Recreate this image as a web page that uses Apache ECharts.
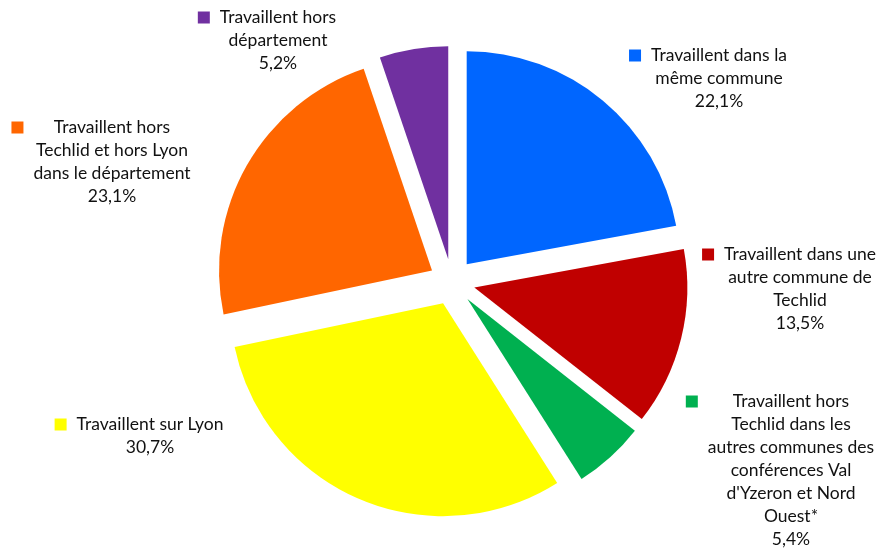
<!DOCTYPE html>
<html>
<head>
<meta charset="utf-8">
<script src="https://cdn.jsdelivr.net/npm/echarts@6/dist/echarts.min.js"></script>
<style>
  html, body { margin: 0; padding: 0; background: #fff; }
  #chart { width: 880px; height: 552px; }
</style>
</head>
<body>
<div id="chart"></div>
<script>
// Répartition des actifs selon le lieu de travail (%)
const categories = [
  'Travaillent dans la\nmême commune',
  'Travaillent dans une\nautre commune de\nTechlid',
  "Travaillent hors\nTechlid dans les\nautres communes des\nconférences Val\nd'Yzeron et Nord\nOuest*",
  'Travaillent sur Lyon',
  'Travaillent hors\nTechlid et hors Lyon\ndans le département',
  'Travaillent hors\ndépartement'
];
const values = [22.1, 13.5, 5.4, 30.7, 23.1, 5.2];
const colors = ['#0066FF', '#C00000', '#00B050', '#FFFF00', '#FF6600', '#7030A0'];

// Label anchors (text-block centre x, top y) for each slice
const labelAnchors = [
  [719, 44],
  [800, 243],
  [791, 390],
  [150, 413],
  [112, 116],
  [278, 6]
];

const rich = {
  t: { fontFamily: 'Lato', fontSize: 17.5, fill: '#111', lineHeight: 23, align: 'center' },
  g: { width: 10, height: 12, align: 'left' },
  l: { width: 22, height: 12, align: 'left' },
  r: { width: 22, height: 12, align: 'right' }
};
colors.forEach((c, i) => {
  rich['sq' + i] = { width: 12, height: 12, backgroundColor: c, align: 'left' };
});

function fmt(v) {
  return v.toFixed(1).replace('.', ',') + '%';
}

// Legend-key square + centred text block for one slice
function labelText(i) {
  const lines = categories[i].split('\n');
  lines.push(fmt(values[i]));
  return lines.map(function (ln, k) {
    if (k === 0) return '{sq' + i + '|}{g|}{t|' + ln + '}{r|}';
    return '{l|}{t|' + ln + '}{r|}';
  }).join('\n');
}

const labels = categories.map((name, i) => ({
  type: 'text',
  x: labelAnchors[i][0],
  y: labelAnchors[i][1],
  silent: true,
  style: {
    text: labelText(i),
    align: 'center',
    verticalAlign: 'top',
    rich: rich
  }
}));

const chart = echarts.init(document.getElementById('chart'), null, { renderer: 'canvas' });
chart.setOption({
  animation: false,
  graphic: labels,
  series: [{
    type: 'pie',
    center: [452, 282],
    radius: 213,
    startAngle: 90,
    clockwise: true,
    selectedMode: 'multiple',
    selectedOffset: 23,
    emphasis: { disabled: true },
    itemStyle: { borderWidth: 0 },
    label: { show: false },
    labelLine: { show: false },
    data: categories.map((name, i) => ({
      name: name,
      value: values[i],
      selected: true,
      itemStyle: { color: colors[i] }
    }))
  }]
});
</script>
</body>
</html>
